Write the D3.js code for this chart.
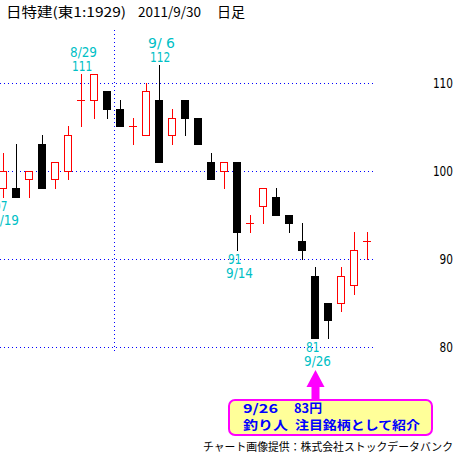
<!DOCTYPE html>
<html>
<head>
<meta charset="utf-8">
<script src="https://cdn.jsdelivr.net/npm/d3@7"></script>
<style>
  html, body { margin: 0; padding: 0; background: #fff; }
  svg { display: block; }
</style>
</head>
<body>
<div id="chart"></div>
<script>
// ---- data ----
const dates = ["8/19","8/22","8/23","8/24","8/25","8/26","8/29","8/30","8/31","9/1","9/2","9/5","9/6","9/7","9/8","9/9","9/12","9/13","9/14","9/15","9/16","9/20","9/21","9/22","9/26","9/27","9/28","9/29","9/30"];
const openVals  = [98,98,99,103,99,100,108,108,109,107,105,104,108,104,108,106,101,100,101,94,96,97,95,92,88,85,85,87,92];
const highVals  = [102,103,100,104,101,105,111,111,109,108,106,110,112,107,108,106,102,101,101,95,98,98,95,94,89,85,89,93,93];
const lowVals   = [97,97,97,98,98,99,105,106,106,105,103,104,101,103,104,103,99,98,91,93,94,95,93,90,81,81,84,86,90];
const closeVals = [100,97,100,98,101,104,108,111,107,105,105,109,101,106,106,103,99,101,93,94,98,95,94,91,81,83,88,91,92];

const yTicks = [80, 90, 100, 110];
const highLabelDates = ["8/29", "9/6"];
const highLabelValues = [111, 112];
const lowLabelDates = ["8/19", "9/14", "9/26"];
const lowLabelValues = [97, 91, 81];
const monthStartDate = "9/1";

const titleParts = ["日特建(東1:1929)", "2011/9/30", "日足"];
const noteDate = "9/26";
const noteLine1 = ["9/26", "83円"];
const noteLine2 = ["釣り人", "注目銘柄として紹介"];
const footerText = "チャート画像提供：株式会社ストックデータバンク";

// ---- setup ----
const W = 458, H = 461;
const svg = d3.select("#chart").append("svg").attr("width", W).attr("height", H)
  .style("background", "#fff");

const x = d3.scaleBand().domain(dates).range([-3.5, 373.5]).paddingInner(0).paddingOuter(0);
const cx = d => Math.round(x(d) + x.bandwidth() / 2);
const y = d3.scaleLinear().domain([80, 110]).range([346.5, 82.5]);
const ry = v => Math.round(y(v));

const numFont = "'DejaVu Sans', sans-serif";
const cjkFont = "'Noto Sans CJK JP', sans-serif";
const CYAN = "#00bfc6";

// ---- grid ----
const grid = svg.append("g");
grid.selectAll("line.h").data(yTicks).enter().append("line")
  .attr("x1", 0).attr("x2", 376)
  .attr("y1", d => ry(d) + 0.5).attr("y2", d => ry(d) + 0.5)
  .attr("stroke", "#0000ff").attr("stroke-width", 1).attr("stroke-dasharray", "1,3");

const vx = Math.round(x(monthStartDate)) + 0.5;
grid.append("line")
  .attr("x1", vx).attr("x2", vx).attr("y1", 30).attr("y2", 352)
  .attr("stroke", "#0000ff").attr("stroke-width", 1).attr("stroke-dasharray", "1,3");

// ---- right axis labels ----
svg.append("g").selectAll("text").data(yTicks).enter().append("text")
  .attr("x", 453).attr("y", d => ry(d) + 5)
  .attr("text-anchor", "end")
  .attr("font-family", numFont).attr("font-size", 13.5)
  .attr("textLength", d => String(d).length * 6.7).attr("lengthAdjust", "spacingAndGlyphs")
  .attr("fill", "#000")
  .text(d => d);

// ---- candles ----
const candles = dates.map((d, i) => ({ d, o: openVals[i], h: highVals[i], l: lowVals[i], c: closeVals[i] }));
const cg = svg.append("g");
candles.forEach(k => {
  const px = cx(k.d);
  const up = k.c > k.o;
  const flat = k.c === k.o;
  const col = (up || flat) ? "#ff0000" : "#000000";
  cg.append("line")
    .attr("x1", px + 0.5).attr("x2", px + 0.5)
    .attr("y1", ry(k.h)).attr("y2", ry(k.l) + 1)
    .attr("stroke", col).attr("stroke-width", 1);
  if (flat) {
    cg.append("line")
      .attr("x1", px - 4).attr("x2", px + 4)
      .attr("y1", ry(k.o) + 0.5).attr("y2", ry(k.o) + 0.5)
      .attr("stroke", col).attr("stroke-width", 1);
  } else if (up) {
    const t = ry(k.c), b = ry(k.o);
    cg.append("rect")
      .attr("x", px - 3.5).attr("y", t + 0.5)
      .attr("width", 7).attr("height", b - t)
      .attr("fill", "#fff").attr("stroke", col).attr("stroke-width", 1);
  } else {
    const t = ry(k.o), b = ry(k.c);
    cg.append("rect")
      .attr("x", px - 4).attr("y", t)
      .attr("width", 8).attr("height", b - t + 1)
      .attr("fill", col);
  }
});

// ---- extreme labels ----
const fmtDate = s => { const [m, dd] = s.split("/"); return m + "/" + (dd.length < 2 ? " " + dd : dd); };
const lab = svg.append("g").attr("font-family", numFont).attr("font-size", 13.5).attr("fill", CYAN);
function addLabel(txt, xx, yy) {
  lab.append("text").attr("x", xx).attr("y", yy)
    .attr("textLength", txt.length * 6.75).attr("lengthAdjust", "spacingAndGlyphs")
    .style("white-space", "pre").attr("xml:space", "preserve")
    .text(txt);
}
highLabelDates.forEach((d, i) => {
  const px = cx(d);
  const yy = y(highLabelValues[i]);
  addLabel(fmtDate(d), px - 11, yy - 17);
  addLabel(String(highLabelValues[i]), px - 9, yy - 3);
});
lowLabelDates.forEach((d, i) => {
  const px = cx(d);
  const yy = y(lowLabelValues[i]);
  addLabel(String(lowLabelValues[i]), px - 9, yy + 14);
  addLabel(fmtDate(d), px - 11, yy + 28.5);
});

// ---- title ----
const tg = svg.append("g").attr("font-family", cjkFont).attr("font-size", 13.5).attr("fill", "#000");
tg.append("text").attr("x", 6).attr("y", 17).attr("textLength", 120).attr("lengthAdjust", "spacingAndGlyphs").text(titleParts[0]);
tg.append("text").attr("x", 138).attr("y", 17).attr("textLength", 63).attr("lengthAdjust", "spacingAndGlyphs").text(titleParts[1]);
tg.append("text").attr("x", 217).attr("y", 17).attr("textLength", 28).attr("lengthAdjust", "spacingAndGlyphs").text(titleParts[2]);

// ---- annotation arrow + box ----
const ax = cx(noteDate) + 0.5;
const MAG = "#ff00ff";
svg.append("path")
  .attr("d", `M${ax},370 L${ax + 9},387 L${ax - 9},387 Z`)
  .attr("fill", MAG);
svg.append("rect").attr("x", ax - 4).attr("y", 386).attr("width", 8).attr("height", 14).attr("fill", MAG);
svg.append("rect")
  .attr("x", 229).attr("y", 400).attr("width", 203).attr("height", 35)
  .attr("rx", 6).attr("ry", 6)
  .attr("fill", "#ffff99").attr("stroke", MAG).attr("stroke-width", 2);

const ng = svg.append("g").attr("font-family", cjkFont).attr("font-size", 12.5)
  .attr("font-weight", "bold").attr("fill", "#0000ff");
ng.append("text").attr("x", 243).attr("y", 413).attr("textLength", 35).attr("lengthAdjust", "spacingAndGlyphs").text(noteLine1[0]);
ng.append("text").attr("x", 294).attr("y", 413).attr("textLength", 28).attr("lengthAdjust", "spacingAndGlyphs").text(noteLine1[1]);
ng.append("text").attr("x", 243).attr("y", 430).attr("textLength", 45).attr("lengthAdjust", "spacingAndGlyphs").text(noteLine2[0]);
ng.append("text").attr("x", 295).attr("y", 430).attr("textLength", 125).attr("lengthAdjust", "spacingAndGlyphs").text(noteLine2[1]);

// ---- footer ----
svg.append("text").attr("x", 203).attr("y", 451)
  .attr("font-family", cjkFont).attr("font-size", 11).attr("fill", "#000")
  .attr("textLength", 250).attr("lengthAdjust", "spacingAndGlyphs")
  .text(footerText);
</script>
</body>
</html>
